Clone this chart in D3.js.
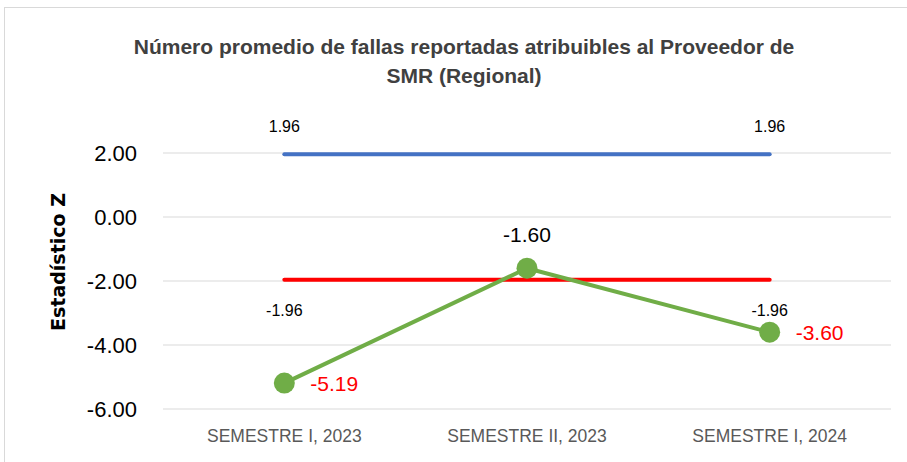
<!DOCTYPE html>
<html><head><meta charset="utf-8">
<script src="https://cdn.jsdelivr.net/npm/d3@7"></script>
<style>body{margin:0;background:#fff}svg{display:block}</style>
</head><body>
<svg id="c" width="907" height="462"></svg>
<script>
const categories = ["SEMESTRE I, 2023", "SEMESTRE II, 2023", "SEMESTRE I, 2024"];
const upperLimit = [1.96, 1.96, 1.96];
const lowerLimit = [-1.96, -1.96, -1.96];
const zValues = [-5.19, -1.60, -3.60];
const yTicks = [-6, -4, -2, 0, 2];
const titleLines = ["Número promedio de fallas reportadas atribuibles al Proveedor de", "SMR (Regional)"];
const yAxisTitle = "Estadístico Z";

(function(){
const svg = d3.select("#c");
const ff = "'Liberation Sans',Arial,sans-serif";
const pL = 163, pR = 891, pT = 153, pB = 409;
const fmt = d => d.toFixed(2);

svg.append("rect").attr("x",4.5).attr("y",7.5).attr("width",920).attr("height",470)
  .attr("fill","#fff").attr("stroke","#d9d9d9").attr("stroke-width",1);

const x = d3.scaleBand().domain(categories).range([pL,pR]);
const y = d3.scaleLinear().domain([-6,2]).range([pB,pT]);
const cx = d => x(d) + x.bandwidth()/2;

svg.append("g").selectAll("line").data(yTicks).join("line")
  .attr("x1",pL).attr("x2",pR).attr("y1",d=>y(d)).attr("y2",d=>y(d))
  .attr("stroke","#d9d9d9").attr("stroke-width",1);

const ya = svg.append("g").attr("transform",`translate(${pL-26},0)`)
  .call(d3.axisLeft(y).tickValues(yTicks).tickFormat(fmt).tickSize(0).tickPadding(0));
ya.select(".domain").remove();
ya.selectAll("text").attr("font-family",ff).attr("font-size",22).attr("fill","#000").attr("dy","0.35em");

const xa = svg.append("g").attr("transform",`translate(0,${pB})`)
  .call(d3.axisBottom(x).tickSize(0).tickPadding(0));
xa.select(".domain").remove();
xa.selectAll("text").attr("font-family",ff).attr("font-size",17.5).attr("fill","#595959").attr("dy",null).attr("y",33);

const line = d3.line().x((d,i)=>cx(categories[i])).y(d=>y(d));
svg.append("path").datum(upperLimit).attr("d",line).attr("fill","none").attr("stroke","#4472C4").attr("stroke-width",4).attr("stroke-linecap","round");
svg.append("path").datum(lowerLimit).attr("d",line).attr("fill","none").attr("stroke","#FF0000").attr("stroke-width",4).attr("stroke-linecap","round");
svg.append("path").datum(zValues).attr("d",line).attr("fill","none").attr("stroke","#70AD47").attr("stroke-width",4).attr("stroke-linejoin","round");
svg.append("g").selectAll("circle").data(zValues).join("circle")
  .attr("cx",(d,i)=>cx(categories[i])).attr("cy",d=>y(d)).attr("r",10.5).attr("fill","#70AD47");

[0,2].forEach(i=>{
  svg.append("text").attr("x",cx(categories[i])).attr("y",y(upperLimit[i])-22)
    .attr("text-anchor","middle").attr("font-family",ff).attr("font-size",16).attr("fill","#000").text(fmt(upperLimit[i]));
  svg.append("text").attr("x",cx(categories[i])).attr("y",y(lowerLimit[i])+36)
    .attr("text-anchor","middle").attr("font-family",ff).attr("font-size",16).attr("fill","#000").text(fmt(lowerLimit[i]));
});
svg.append("text").attr("x",cx(categories[1])).attr("y",y(zValues[1])-26)
  .attr("text-anchor","middle").attr("font-family",ff).attr("font-size",21).attr("fill","#000").text(fmt(zValues[1]));
[0,2].forEach(i=>{
  svg.append("text").attr("x",cx(categories[i])+26).attr("y",y(zValues[i])+8)
    .attr("text-anchor","start").attr("font-family",ff).attr("font-size",21).attr("fill","#FF0000").text(fmt(zValues[i]));
});

svg.append("g").selectAll("text").data(titleLines).join("text")
  .attr("x",464).attr("y",(d,i)=>54+i*29).attr("text-anchor","middle")
  .attr("font-family",ff).attr("font-weight","bold").attr("font-size",21).attr("fill","#404040").text(d=>d);

svg.append("text").attr("transform",`translate(65,262) rotate(-90)`).attr("text-anchor","middle")
  .attr("font-family","'DejaVu Sans',Verdana,sans-serif").attr("font-weight","bold").attr("font-size",19).attr("fill","#000").text(yAxisTitle);
})();
</script>
</body></html>
